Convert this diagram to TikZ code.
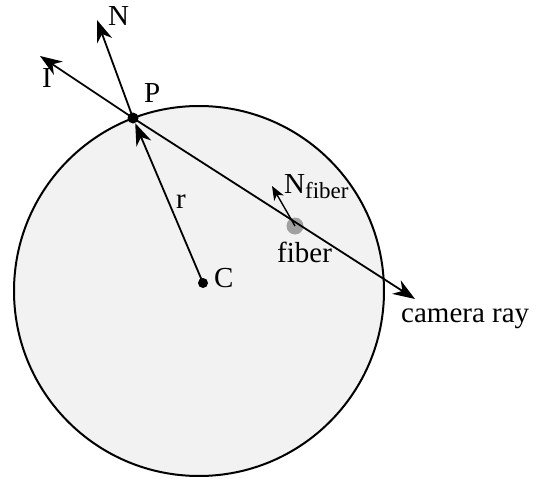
\documentclass[tikz,border=0pt]{standalone}
\usepackage{fontspec}
\setmainfont{Liberation Serif}
\usetikzlibrary{arrows.meta}
\definecolor{discfill}{RGB}{242,242,242}
\definecolor{fibergray}{RGB}{160,160,160}

\begin{document}
\begin{tikzpicture}[
    x=1pt, y=-1pt,
    >={Stealth[length=22pt,width=16pt,inset=7pt]},
    tag/.style={font=\fontsize{29}{34}\selectfont, inner sep=0pt, anchor=base west},
    pt/.style={circle, fill=black, inner sep=0pt, minimum size=#1},
    ray/.style={->, line width=1.8pt},
  ]
  \useasboundingbox (0,0) rectangle (547,479);

  % cross-section
  \draw[fill=discfill, line width=2pt] (199,291) circle (185);

  % points
  \node[pt=10pt] (C) at (203,283) {};
  \node[pt=11pt] (P) at (133,118) {};
  \node[pt=17pt, fill=fibergray] (fiber) at (295,226) {};

  % free ends
  \coordinate (Ntip) at (97,20);
  \coordinate (Itip) at (40,56);
  \coordinate (camtip) at (415,299);
  \coordinate (Nftip) at (272,186);

  % rays and normals
  \draw[ray] (P.center) -- (Ntip);
  \draw[ray] (P.center) -- (Itip);
  \draw[ray] (P.center) -- (camtip);
  \draw[ray] (C.center) -- (P);
  \draw[->, line width=1.4pt, >={Stealth[length=14pt,width=11pt,inset=4pt]}] (fiber.center) -- (Nftip);

  % labels
  \node[tag] (Nlbl) at (108,26) {N};
  \node[tag] (Ilbl) at (42,87) {I};
  \node[tag] (Plbl) at (144,102) {P};
  \node[tag] (rlbl) at (176,208) {r};
  \node[tag] (Clbl) at (214,287) {C};
  \node[tag] (Nflbl) at (284,193) {N\raisebox{-5pt}{\fontsize{23}{27}\selectfont fiber}};
  \node[tag] (fiberlbl) at (277,262) {fiber};
  \node[tag] (camlbl) at (401,322) {camera ray};

\end{tikzpicture}
\end{document}
